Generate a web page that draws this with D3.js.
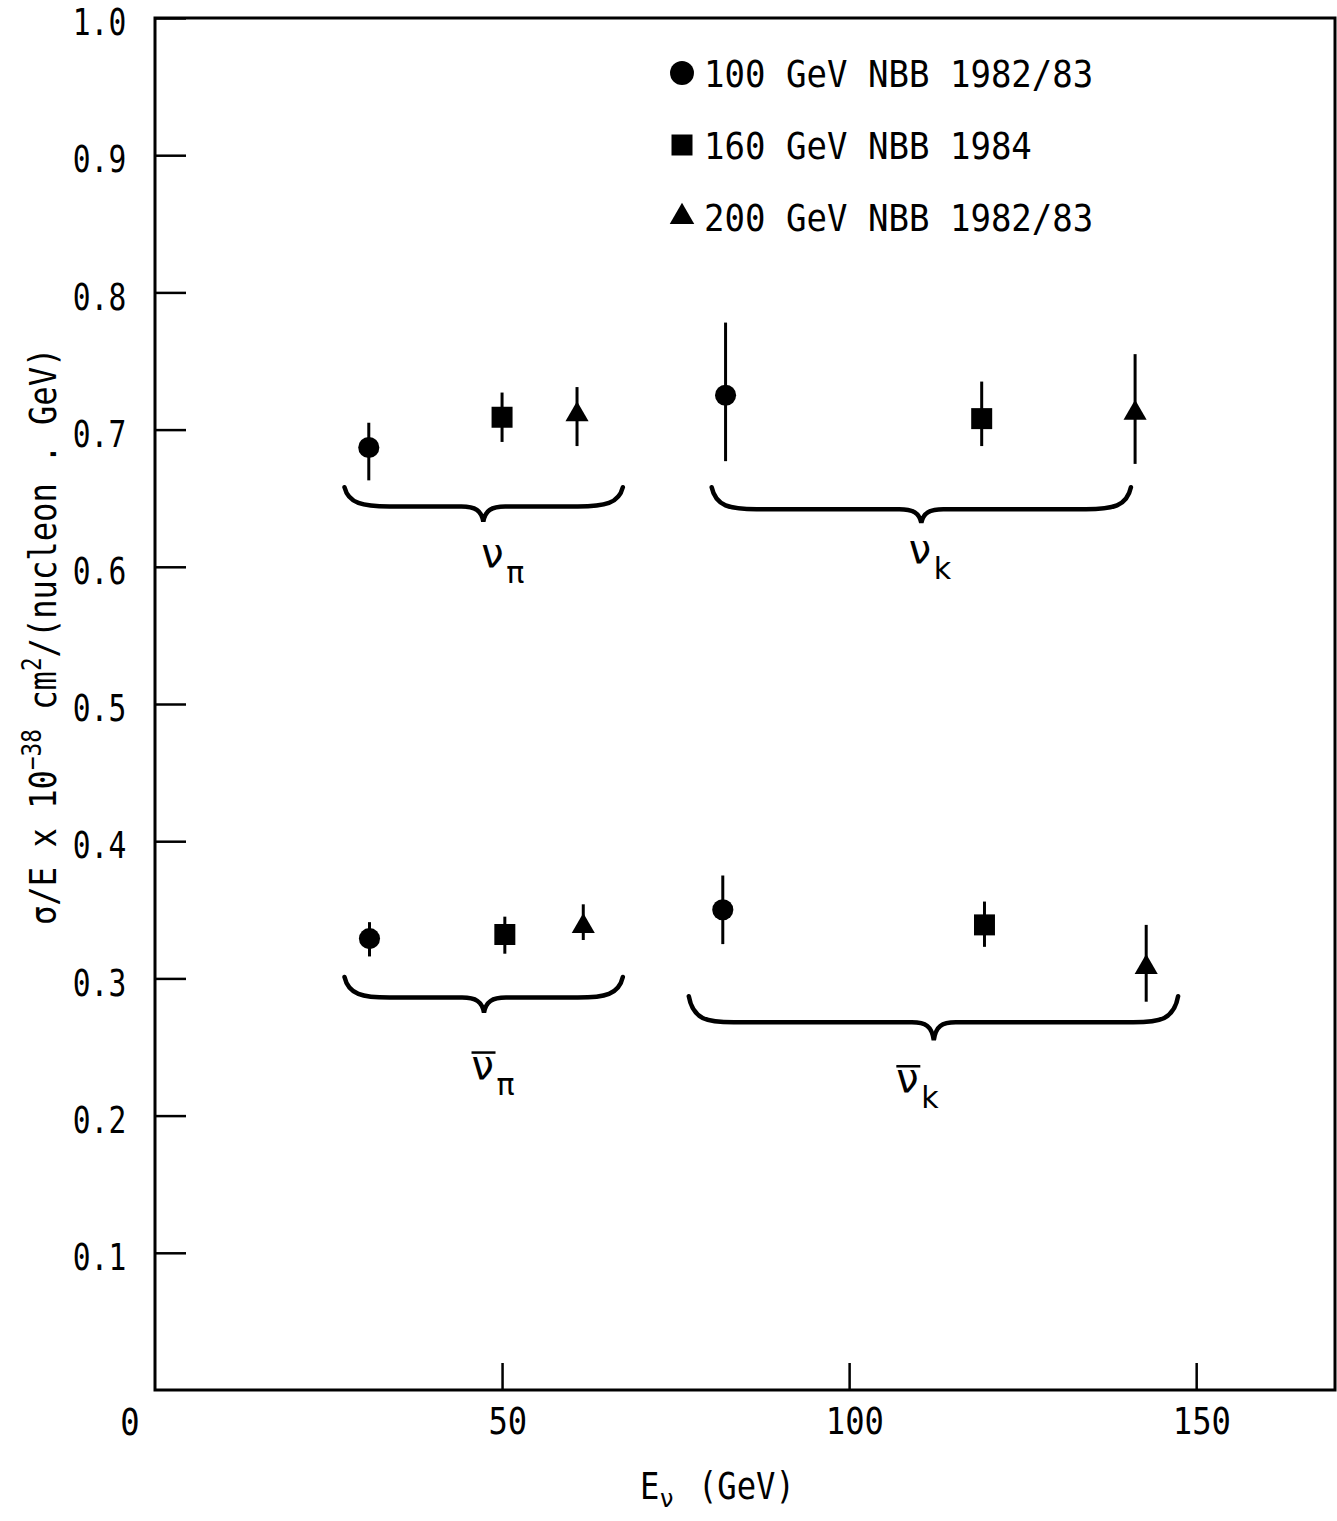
<!DOCTYPE html>
<html>
<head>
<meta charset="utf-8">
<script src="https://cdn.jsdelivr.net/npm/d3@7"></script>
<style>
body { margin: 0; background: #fff; }
svg { display: block; }
</style>
</head>
<body>
<div id="chart"></div>
<script>
/* sigma/E vs E_nu for nu and nubar, three beam settings */

// legend / series
var seriesNames = ["100 GeV NBB 1982/83", "160 GeV NBB 1984", "200 GeV NBB 1982/83"];
var seriesSymbols = [d3.symbolCircle, d3.symbolSquare, d3.symbolTriangle];

// one entry per group: nu_pi, nu_K, nubar_pi, nubar_K
var energy100 = [30.8, 82.2, 30.9, 81.8];
var value100  = [0.687, 0.725, 0.329, 0.350];
var low100    = [0.663, 0.677, 0.316, 0.325];
var high100   = [0.705, 0.778, 0.341, 0.375];

var energy160 = [50.0, 119.1, 50.4, 119.5];
var value160  = [0.709, 0.708, 0.332, 0.339];
var low160    = [0.691, 0.688, 0.318, 0.323];
var high160   = [0.727, 0.735, 0.345, 0.356];

var energy200 = [60.8, 141.2, 61.7, 142.8];
var value200  = [0.711, 0.712, 0.338, 0.308];
var low200    = [0.688, 0.675, 0.328, 0.283];
var high200   = [0.731, 0.755, 0.354, 0.339];

// braces under each group (GeV / sigma units)
var braceFrom = [27.3, 80.2, 27.3, 76.9];
var braceTo   = [67.4, 140.6, 67.4, 147.4];
var braceTip  = [47.3, 110.4, 47.4, 112.2];
var braceEndY  = [0.658, 0.658, 0.301, 0.287];
var braceFlatY = [0.644, 0.642, 0.286, 0.268];
var braceTipY  = [0.633, 0.632, 0.275, 0.255];

// group labels
var labelSub = ["\u03c0", "k", "\u03c0", "k"];
var labelBar = [false, false, true, true];
var labelX = [47.0, 108.6, 45.6, 106.8];
var labelY = [0.600, 0.603, 0.227, 0.217];

var xTicks = [50, 100, 150];
var yTicks = [0.1, 0.2, 0.3, 0.4, 0.5, 0.6, 0.7, 0.8, 0.9, 1.0];

var FONT = "'DejaVu Sans Mono', 'Liberation Mono', monospace";
var SQ = 0.87; // narrow the mono font

var W = 1337, H = 1521;
var svg = d3.select("#chart").append("svg")
	.attr("width", W)
	.attr("height", H);

var x = d3.scaleLinear().domain([0, 170]).range([155, 1335]);
var y = d3.scaleLinear().domain([0, 1]).range([1390, 18]);

function txt(parent, px, py, s, size, anchor, sq) {
	return parent.append("text")
		.attr("transform", "translate(" + px + "," + py + ")scale(" + (sq || SQ) + ",1)")
		.attr("text-anchor", anchor || "start")
		.attr("font-family", FONT)
		.attr("font-size", size || 37)
		.attr("fill", "#000")
		.text(s);
}

// frame
svg.append("rect")
	.attr("x", x(0)).attr("y", y(1))
	.attr("width", x(170) - x(0)).attr("height", y(0) - y(1))
	.attr("fill", "none").attr("stroke", "#000").attr("stroke-width", 3);

// axes, ticks pointing inward
var xAxis = svg.append("g")
	.attr("transform", "translate(0," + y(0) + ")")
	.call(d3.axisBottom(x).tickValues(xTicks).tickSize(-27).tickPadding(18).tickFormat(d3.format("d")));
var yAxis = svg.append("g")
	.attr("transform", "translate(" + x(0) + ",0)")
	.call(d3.axisLeft(y).tickValues(yTicks).tickSize(-31).tickFormat(d3.format(".1f")));

[xAxis, yAxis].forEach(function(a) {
	a.select(".domain").remove();
	a.selectAll(".tick line").attr("stroke", "#000").attr("stroke-width", 2.5);
	a.selectAll(".tick text")
		.attr("font-family", FONT)
		.attr("font-size", 37)
		.attr("fill", "#000");
});
xAxis.selectAll(".tick text").attr("x", 6).attr("transform", "scale(" + SQ + ",1)");
yAxis.selectAll(".tick text").attr("x", -36).attr("dy", "0.45em").attr("transform", "scale(0.8,1)");

// origin label
txt(svg, x(0) - 25, y(0) + 45, "0", 37, "middle");

// axis titles
var xt = svg.append("g");
txt(xt, 640, 1499, "E", 37);
svg.append("text").attr("x", 660).attr("y", 1507)
	.attr("font-family", "'DejaVu Sans'").attr("font-size", 24).text("\u03bd");
txt(xt, 698, 1499, "(GeV)", 37);

var yt = svg.append("g").attr("transform", "translate(56,925)rotate(-90)scale(" + SQ + ",1)");
var ytext = yt.append("text")
	.attr("font-family", FONT).attr("font-size", 37).attr("fill", "#000");
ytext.append("tspan").text("\u03c3/E x 10");
ytext.append("tspan").attr("font-size", 26).attr("dy", -15).text("\u221238");
ytext.append("tspan").attr("dy", 15).text(" cm");
ytext.append("tspan").attr("font-size", 26).attr("dy", -15).text("2");
ytext.append("tspan").attr("dy", 15).text("/(nucleon . GeV)");

// braces
function bracePath(i) {
	var x0 = x(braceFrom[i]), x1 = x(braceTo[i]), xm = x(braceTip[i]);
	var ye = y(braceEndY[i]), yf = y(braceFlatY[i]), ym = y(braceTipY[i]);
	return "M" + x0 + "," + ye +
		"C" + (x0 + 4) + "," + (yf - 3) + " " + (x0 + 18) + "," + yf + " " + (x0 + 45) + "," + yf +
		"L" + (xm - 22) + "," + yf +
		"C" + (xm - 8) + "," + yf + " " + (xm - 2) + "," + (yf + 4) + " " + xm + "," + ym +
		"C" + (xm + 2) + "," + (yf + 4) + " " + (xm + 8) + "," + yf + " " + (xm + 22) + "," + yf +
		"L" + (x1 - 45) + "," + yf +
		"C" + (x1 - 18) + "," + yf + " " + (x1 - 4) + "," + (yf - 3) + " " + x1 + "," + ye;
}
svg.append("g").selectAll("path")
	.data(d3.range(braceFrom.length))
	.join("path")
	.attr("d", bracePath)
	.attr("fill", "none").attr("stroke", "#000").attr("stroke-width", 4.5)
	.attr("stroke-linecap", "round");

// group labels: nu with subscript, bar for antineutrino
var lab = svg.append("g").selectAll("g")
	.data(d3.range(labelX.length))
	.join("g")
	.attr("transform", function(i) { return "translate(" + x(labelX[i]) + "," + y(labelY[i]) + ")"; });
lab.append("text")
	.attr("font-family", "'DejaVu Sans'").attr("font-size", 40)
	.text("\u03bd");
lab.append("text")
	.attr("x", 25).attr("y", 16)
	.attr("font-family", "'DejaVu Sans'").attr("font-size", 30)
	.text(function(i) { return labelSub[i]; });
lab.filter(function(i) { return labelBar[i]; })
	.append("line")
	.attr("x1", 0).attr("x2", 24).attr("y1", -26).attr("y2", -26)
	.attr("stroke", "#000").attr("stroke-width", 2.5);

// data points
var series = [
	{e: energy100, v: value100, lo: low100, hi: high100, sym: seriesSymbols[0], size: 350},
	{e: energy160, v: value160, lo: low160, hi: high160, sym: seriesSymbols[1], size: 441},
	{e: energy200, v: value200, lo: low200, hi: high200, sym: seriesSymbols[2], size: 231}
];
series.forEach(function(s) {
	var g = svg.append("g");
	var idx = d3.range(s.e.length);
	g.selectAll("line")
		.data(idx)
		.join("line")
		.attr("x1", function(i) { return x(s.e[i]); })
		.attr("x2", function(i) { return x(s.e[i]); })
		.attr("y1", function(i) { return y(s.lo[i]); })
		.attr("y2", function(i) { return y(s.hi[i]); })
		.attr("stroke", "#000").attr("stroke-width", 3);
	g.selectAll("path")
		.data(idx)
		.join("path")
		.attr("transform", function(i) { return "translate(" + x(s.e[i]) + "," + y(s.v[i]) + ")"; })
		.attr("d", d3.symbol().type(s.sym).size(s.size))
		.attr("fill", "#000");
});

// legend
var legY = [73, 145, 217];
var legSize = [450, 441, 260];
var leg = svg.append("g");
seriesNames.forEach(function(name, i) {
	leg.append("path")
		.attr("transform", "translate(682," + legY[i] + ")")
		.attr("d", d3.symbol().type(seriesSymbols[i]).size(legSize[i]))
		.attr("fill", "#000");
	txt(leg, 704, legY[i] + 14, name, 37, "start", 0.92);
});
</script>
</body>
</html>
